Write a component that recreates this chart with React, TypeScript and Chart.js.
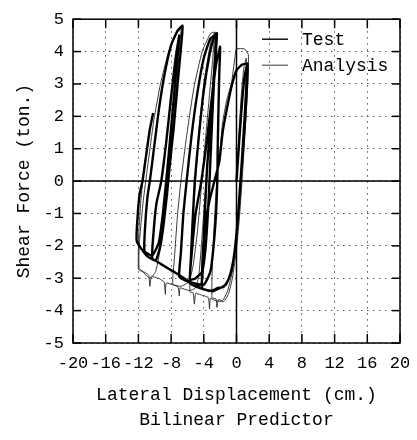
import React, { useEffect, useRef } from "react";
import { Chart, registerables } from "chart.js";

Chart.register(...registerables);

// Tick values for both axes
const dispTicks = [-20, -16, -12, -8, -4, 0, 4, 8, 12, 16, 20];
const forceTicks = [-5, -4, -3, -2, -1, 0, 1, 2, 3, 4, 5];

const seriesNames = ["Test", "Analysis"];

// Measured hysteresis response (cm, ton)
const testDisp = [
  0, 0.35, 0.7, 1.0, 1.35,
  1.3, 1.05, 0.75, 0.5, 0.25, -0.1, -0.5, -1.0, -1.6, -2.3, -2.9, -3.6, -4.2,
  -4.15, -3.9, -3.3, -2.6, -2.1, -1.7, -1.2, -0.6, 0, 0.7, 1.3,
  1.2, 0.95, 0.65, 0.4, 0.15, -0.2, -0.65, -1.3, -2.0, -2.9, -4.2, -5.0, -5.7,
  -5.6, -5.4, -5.1, -4.6, -4.0, -3.3, -2.8, -2.4,
  -2.55, -2.9, -3.3, -3.6, -3.8, -4.0, -4.1, -4.3, -5.0, -6.0, -7.0,
  -6.8, -6.5, -6.1, -5.5, -4.8, -4.0, -3.2, -2.5,
  -2.6, -2.85, -3.1, -3.3, -3.5, -3.8, -4.2, -5.0, -5.7,
  -5.5, -5.0, -4.3, -3.6, -3.0, -2.5, -2.0,
  -2.1, -2.2, -2.3, -2.35, -2.5, -2.8, -3.2, -4.0, -5.7, -7.0, -8.2, -9.3, -10.3,
  -10.15, -9.8, -9.2, -8.6, -8.0, -7.5, -7.0,
  -7.3, -7.8, -8.3, -8.6, -9.0, -9.5, -10.3, -11.25,
  -11.2, -10.9, -10.6, -10.1, -9.5, -8.8, -8.0, -7.2, -6.6,
  -6.8, -7.2, -7.7, -8.2, -8.5, -8.9, -9.3, -9.9, -11.0, -12.2,
  -12.1, -11.85, -11.5, -11.0, -10.6, -10.2,
];
const testForce = [
  0, 1.3, 2.5, 3.25, 3.63,
  3.0, 1.9, 0.8, 0, -0.9, -1.9, -2.6, -3.05, -3.27, -3.3, -3.38, -3.37, -3.3,
  -2.4, -1.5, -0.6, 0.1, 0.6, 1.5, 2.2, 2.93, 3.42, 3.6, 3.62,
  2.9, 1.8, 0.6, -0.3, -1.2, -2.1, -2.8, -3.2, -3.3, -3.4, -3.33, -3.25, -3.15,
  -2.5, -1.4, 0, 1.4, 2.8, 3.9, 4.4, 4.57,
  3.9, 2.8, 1.4, 0.4, -0.6, -1.7, -2.6, -3.2, -3.25, -3.1, -2.95,
  -2.2, -1.0, 0, 1.4, 2.7, 3.8, 4.4, 4.5,
  3.8, 2.6, 1.2, 0, -1.0, -2.1, -2.8, -3.0, -3.05,
  -2.3, -1.0, 0, 1.3, 2.6, 3.6, 4.15,
  3.4, 2.3, 1.0, 0, -1.0, -2.0, -2.8, -3.2, -3.12, -2.9, -2.72, -2.55, -2.38,
  -1.6, -0.7, 0, 1.2, 2.6, 3.7, 4.5,
  3.6, 2.2, 0.8, 0, -1.0, -1.9, -2.3, -2.16,
  -1.5, -0.5, 0, 1.0, 2.2, 3.3, 4.2, 4.65, 4.8,
  4.1, 3.0, 1.6, 0.4, -0.4, -1.3, -2.0, -2.45, -2.3, -1.86,
  -1.1, -0.4, 0, 0.9, 1.6, 2.1,
];

// Bilinear model prediction (cm, ton)
const analysisDisp = [
  0, 0.3, 0.6, 0.9, 1.2,
  1.15, 0.9, 0.6, 0.3, -0.1, -0.6, -1.1, -1.7, -2.2, -2.4, -2.5, -3.0,
  -2.95, -2.7, -2.4, -2.0, -1.7, -1.2, -0.6, -0.2, 0, 1.0, 1.45, 1.45,
  1.3, 1.0, 0.7, 0.4, 0.0, -0.5, -1.0, -1.6, -2.7, -3.2, -3.3, -3.45, -4.5, -5.0, -5.15, -5.3, -5.7,
  -5.6, -5.35, -5.0, -4.6, -4.0, -3.3, -2.9, -2.6,
  -2.75, -3.1, -3.5, -3.9, -4.3, -4.6, -5.0, -5.8, -6.9, -7.0, -7.15, -7.8,
  -7.6, -7.2, -6.8, -6.1, -5.2, -4.2, -3.2, -2.7,
  -2.9, -3.4, -3.9, -4.3, -4.8, -5.3, -5.8, -6.8, -7.8, -8.6, -8.7, -8.85, -9.4, -10.4, -10.6, -10.75, -11.9,
  -11.85, -11.4, -10.9, -10.1, -9.3, -8.3, -7.5, -6.8,
  -7.0, -7.4, -7.9, -8.4, -8.9, -9.4, -9.9, -10.6, -11.5, -12.0,
  -11.95, -11.7, -11.3, -10.8,
];
const analysisForce = [
  0, 1.5, 2.7, 3.5, 3.8,
  2.8, 1.5, 0.2, -1.0, -2.1, -2.9, -3.4, -3.69, -3.66, -3.9, -3.64, -3.6,
  -2.6, -1.2, 0, 1.0, 1.8, 2.5, 3.05, 3.8, 4.08, 4.08, 3.9, 3.6,
  2.6, 1.3, 0.1, -1.0, -2.1, -3.0, -3.5, -3.72, -3.68, -3.62, -3.95, -3.6, -3.5, -3.47, -3.8, -3.45, -3.42,
  -2.6, -1.2, 0.1, 1.5, 3.0, 4.1, 4.5, 4.6,
  3.7, 2.3, 0.8, -0.6, -2.0, -2.9, -3.3, -3.38, -3.3, -3.55, -3.27, -3.18,
  -2.4, -1.0, 0, 1.4, 2.9, 4.0, 4.55, 4.6,
  3.8, 2.4, 1.0, -0.2, -1.6, -2.6, -3.1, -3.25, -3.2, -3.15, -3.5, -3.12, -3.02, -2.95, -3.25, -2.9, -2.7,
  -1.8, -0.6, 0.4, 1.9, 3.0, 4.0, 4.5, 4.7,
  4.0, 2.8, 1.4, 0.1, -1.2, -2.2, -2.8, -3.0, -2.8, -2.72,
  -1.6, -0.6, 0.4, 1.2,
];

// Legend sample stroke widths
const legendStroke = [1.4, 0.9];

const FONT = '"Liberation Mono", "DejaVu Sans Mono", monospace';

const toPoints = (xs: number[], ys: number[]) => xs.map((x, i) => ({ x, y: ys[i] }));

// Solid zero lines, boxed frame with inward ticks and an in-plot legend
const framePlugin = {
  id: "frameAndLegend",
  afterDatasetsDraw(chart: any) {
    const { ctx, chartArea: a, scales } = chart;
    const xs = scales.x;
    const ys = scales.y;
    const seg = (x1: number, y1: number, x2: number, y2: number) => {
      ctx.beginPath();
      ctx.moveTo(x1, y1);
      ctx.lineTo(x2, y2);
      ctx.stroke();
    };
    ctx.save();
    ctx.strokeStyle = "#000";
    ctx.lineWidth = 1.5;
    const x0 = xs.getPixelForValue(0);
    const y0 = ys.getPixelForValue(0);
    seg(a.left, y0, a.right, y0);
    seg(x0, a.top, x0, a.bottom);
    ctx.strokeRect(a.left, a.top, a.right - a.left, a.bottom - a.top);
    xs.ticks.forEach((t: any) => {
      const px = xs.getPixelForValue(t.value);
      seg(px, a.bottom, px, a.bottom - 9);
      seg(px, a.top, px, a.top + 9);
    });
    ys.ticks.forEach((t: any) => {
      const py = ys.getPixelForValue(t.value);
      seg(a.left, py, a.left + 8, py);
      seg(a.right, py, a.right - 8, py);
    });

    // legend
    ctx.font = `18px ${FONT}`;
    ctx.fillStyle = "#000";
    ctx.textBaseline = "middle";
    ctx.textAlign = "left";
    chart.data.datasets.forEach((ds: any, i: number) => {
      const ly = a.top + 20 + i * 26;
      ctx.lineWidth = legendStroke[i];
      ctx.strokeStyle = ds.borderColor;
      seg(a.right - 138, ly, a.right - 112, ly);
      ctx.fillText(ds.label, a.right - 98, ly + 1);
    });
    ctx.restore();
  },
};

export default function App() {
  const canvasRef = useRef<HTMLCanvasElement | null>(null);

  useEffect(() => {
    document.body.style.margin = "0";
    const canvas = canvasRef.current;
    if (!canvas) return;

    const chart = new Chart(canvas, {
      type: "scatter",
      data: {
        datasets: [
          {
            label: seriesNames[0],
            data: toPoints(testDisp, testForce),
            showLine: true,
            borderColor: "#000",
            borderWidth: 2.4,
            pointRadius: 0,
            tension: 0.15,
            fill: false,
          },
          {
            label: seriesNames[1],
            data: toPoints(analysisDisp, analysisForce),
            showLine: true,
            borderColor: "#222",
            borderWidth: 0.9,
            pointRadius: 0,
            tension: 0.15,
            fill: false,
          },
        ],
      },
      options: {
        animation: false,
        responsive: false,
        events: [],
        layout: { padding: { top: 15, right: 17, left: 0, bottom: 0 } },
        plugins: {
          legend: { display: false },
          tooltip: { enabled: false },
        },
        scales: {
          x: {
            type: "linear",
            min: -20,
            max: 20,
            afterBuildTicks: (s: any) => {
              s.ticks = dispTicks.map((v) => ({ value: v }));
            },
            afterFit: (s: any) => {
              s.height = 97;
              s.paddingRight = 12;
            },
            ticks: {
              autoSkip: false,
              maxRotation: 0,
              padding: 10,
              color: "#000",
              font: { family: FONT, size: 17 },
            },
            grid: { color: "#555", lineWidth: 1, drawTicks: false },
            border: { display: false, dash: [1.5, 4.5] },
            title: {
              display: true,
              text: ["Lateral Displacement (cm.)", "Bilinear Predictor"],
              color: "#000",
              font: { family: FONT, size: 18, lineHeight: 1.4 },
              padding: { top: 0, bottom: 7 },
            },
          },
          y: {
            type: "linear",
            min: -5,
            max: 5,
            afterBuildTicks: (s: any) => {
              s.ticks = forceTicks.map((v) => ({ value: v }));
            },
            afterFit: (s: any) => {
              s.width = 73;
            },
            ticks: {
              padding: 9,
              color: "#000",
              font: { family: FONT, size: 17 },
            },
            grid: { color: "#555", lineWidth: 1, drawTicks: false },
            border: { display: false, dash: [1.5, 4.5] },
            title: {
              display: true,
              text: "Shear Force (ton.)",
              color: "#000",
              font: { family: FONT, size: 18, lineHeight: 1.2 },
              padding: { top: 13, bottom: 0 },
            },
          },
        },
      },
      plugins: [framePlugin],
    });

    return () => chart.destroy();
  }, []);

  return (
    <canvas
      ref={canvasRef}
      width={417}
      height={440}
      style={{ display: "block", width: 417, height: 440 }}
    />
  );
}
